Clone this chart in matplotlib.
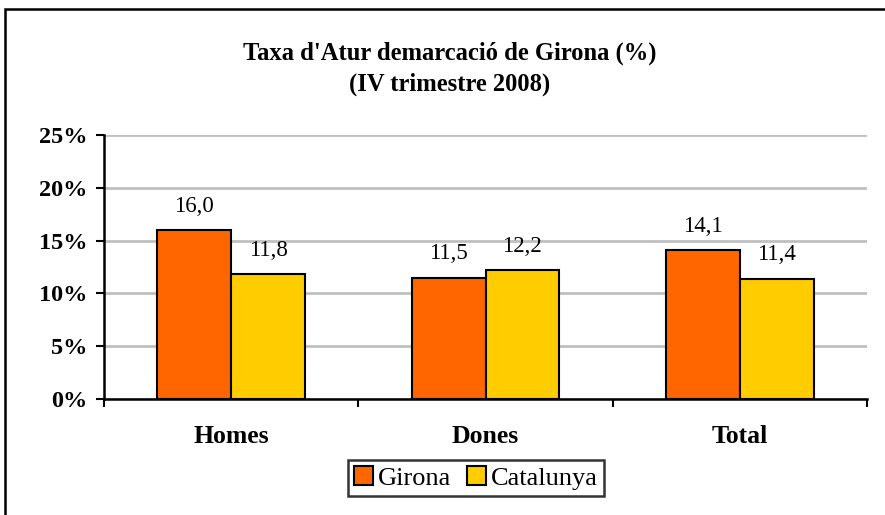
import matplotlib.pyplot as plt
import numpy as np
from matplotlib.patches import Rectangle

categories = ['Homes', 'Dones', 'Total']
girona = [16.0, 11.5, 14.1]
catalunya = [11.8, 12.2, 11.4]
series_names = ['Girona', 'Catalunya']
yticks = [0, 5, 10, 15, 20, 25]

plt.rcParams['font.family'] = ['Liberation Serif', 'DejaVu Serif']

W, H = 885, 515
fig = plt.figure(figsize=(W / 100, H / 100), dpi=100)
ax = fig.add_axes([104 / W, 1 - 399 / H, (867 - 104) / W, (399 - 135) / H])

# outer chart border (cut off on right and bottom)
fig.patches.append(Rectangle((5 / W, -0.1), 1.2, 1 - 9.5 / H + 0.1, transform=fig.transFigure,
                             fill=False, edgecolor='black', linewidth=1.8))

x = np.arange(len(categories))
w = 0.29
b1 = ax.bar(x - w / 2, girona, w, color='#ff6600', edgecolor='black', linewidth=1.5,
            label=series_names[0], zorder=3)
b2 = ax.bar(x + w / 2, catalunya, w, color='#ffcc00', edgecolor='black', linewidth=1.5,
            label=series_names[1], zorder=3)

for bars, vals in ((b1, girona), (b2, catalunya)):
    for rect, v in zip(bars, vals):
        ax.text(rect.get_x() + rect.get_width() / 2, v + 1.25, f'{v:.1f}'.replace('.', ','),
                ha='center', va='bottom', fontsize=16.5)

ax.set_xlim(-0.5, 2.5)
ax.set_ylim(0, 25)
ax.set_yticks(yticks)
ax.set_yticklabels([f'{t}%' for t in yticks], fontsize=17.5, fontweight='bold')
ax.yaxis.grid(True, color='#c0c0c0', linewidth=2, zorder=0)
ax.set_axisbelow(True)

ax.set_xticks([-0.5, 0.5, 1.5, 2.5])
ax.set_xticklabels([])
ax.set_xticks(x, minor=True)
ax.set_xticklabels(categories, minor=True, fontsize=18.5, fontweight='bold')
ax.tick_params(axis='x', which='minor', length=0, pad=19)
ax.tick_params(axis='x', which='major', length=6, width=1.5, direction='out')
ax.tick_params(axis='y', length=6, width=1.5, direction='out', pad=6)

for s in ['top', 'right']:
    ax.spines[s].set_visible(False)
for s in ['left', 'bottom']:
    ax.spines[s].set_linewidth(1.8)

fig.text(450 / W, 1 - 53 / H, "Taxa d'Atur demarcació de Girona (%)", ha='center', va='center',
         fontsize=17.7, fontweight='bold')
fig.text(450 / W, 1 - 84 / H, "(IV trimestre 2008)", ha='center', va='center',
         fontsize=17.7, fontweight='bold')

leg = fig.legend(loc='center', bbox_to_anchor=(476 / W, 1 - 478 / H), ncol=2, fontsize=19,
                 frameon=True, fancybox=False, edgecolor='black', handlelength=0.7,
                 handleheight=0.7, handletextpad=0.2, columnspacing=0.6, borderpad=0.25)
leg.get_frame().set_linewidth(1.8)

fig.savefig('out.png', dpi=100)
